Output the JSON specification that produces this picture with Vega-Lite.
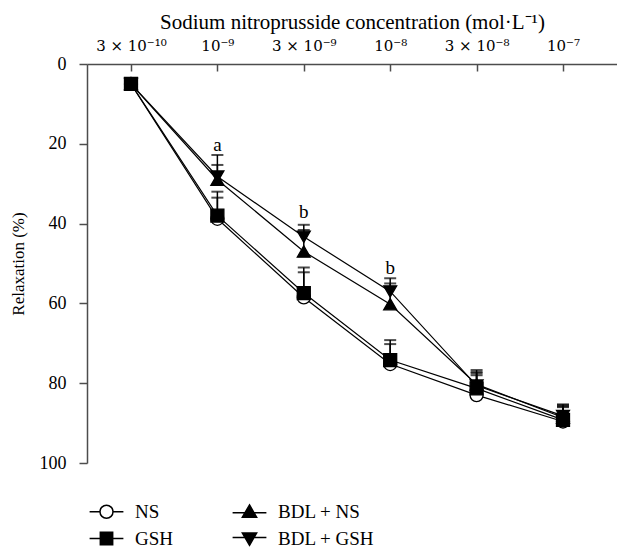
{
  "$schema": "https://vega.github.io/schema/vega-lite/v6.json",
  "width": 530,
  "height": 399,
  "autosize": "none",
  "padding": {"left": 87, "top": 64, "right": 0, "bottom": 85},
  "config": {
    "font": "Liberation Serif",
    "view": {"stroke": null},
    "axis": {
      "labelFont": "Liberation Serif",
      "titleFont": "Liberation Serif",
      "labelColor": "black",
      "titleColor": "black",
      "domainColor": "#4d4d4d",
      "tickColor": "#4d4d4d",
      "domainWidth": 1.5,
      "tickWidth": 1.5,
      "grid": false,
      "labelFontSize": 18,
      "titleFontSize": 21,
      "titleFontWeight": "normal"
    }
  },
  "datasets": {
    "relaxation": [
      {"series": "NS", "step": 0, "relax": 5, "err_top": null},
      {"series": "NS", "step": 1, "relax": 38.8, "err_top": 33.5},
      {"series": "NS", "step": 2, "relax": 58.5, "err_top": 52.2},
      {"series": "NS", "step": 3, "relax": 75.2, "err_top": 70.2},
      {"series": "NS", "step": 4, "relax": 83, "err_top": 78},
      {"series": "NS", "step": 5, "relax": 89.6, "err_top": 86},
      {"series": "BDL + NS", "step": 0, "relax": 5, "err_top": null},
      {"series": "BDL + NS", "step": 1, "relax": 29, "err_top": 25.3},
      {"series": "BDL + NS", "step": 2, "relax": 47, "err_top": 41.6},
      {"series": "BDL + NS", "step": 3, "relax": 60.2, "err_top": 55},
      {"series": "BDL + NS", "step": 4, "relax": 80.3, "err_top": 76.7},
      {"series": "BDL + NS", "step": 5, "relax": 88.6, "err_top": 85.5},
      {"series": "BDL + GSH", "step": 0, "relax": 5, "err_top": null},
      {"series": "BDL + GSH", "step": 1, "relax": 28.2, "err_top": 22.8},
      {"series": "BDL + GSH", "step": 2, "relax": 43.3, "err_top": 40.3},
      {"series": "BDL + GSH", "step": 3, "relax": 57, "err_top": 53.7},
      {"series": "BDL + GSH", "step": 4, "relax": 80.6, "err_top": 77.2},
      {"series": "BDL + GSH", "step": 5, "relax": 88.2, "err_top": 85.8},
      {"series": "GSH", "step": 0, "relax": 5, "err_top": null},
      {"series": "GSH", "step": 1, "relax": 38, "err_top": 32},
      {"series": "GSH", "step": 2, "relax": 57.4, "err_top": 51},
      {"series": "GSH", "step": 3, "relax": 74.2, "err_top": 69.2},
      {"series": "GSH", "step": 4, "relax": 81.3, "err_top": 77.5},
      {"series": "GSH", "step": 5, "relax": 89.2, "err_top": 85.3}
    ],
    "significance": [
      {"step": 1, "relax": 21.7, "label": "a"},
      {"step": 2, "relax": 38.6, "label": "b"},
      {"step": 3, "relax": 52.6, "label": "b"}
    ]
  },
  "encoding": {
    "x": {
      "field": "step",
      "type": "quantitative",
      "scale": {"domain": [-0.509, 5.625], "nice": false, "zero": false},
      "axis": {
        "orient": "top",
        "values": [0, 1, 2, 3, 4, 5],
        "labelExpr": "['3 × 10⁻¹⁰', '10⁻⁹', '3 × 10⁻⁹', '10⁻⁸', '3 × 10⁻⁸', '10⁻⁷'][datum.value]",
        "labelFont": "DejaVu Serif",
        "labelFontSize": 15,
        "tickSize": -7,
        "labelPadding": 18,
        "labelFlush": false,
        "labelOverlap": false,
        "title": "Sodium nitroprusside concentration (mol·L⁻¹)",
        "titlePadding": 6
      }
    },
    "y": {
      "field": "relax",
      "type": "quantitative",
      "scale": {"domain": [0, 100], "reverse": true, "nice": false},
      "axis": {
        "values": [0, 20, 40, 60, 80, 100],
        "tickSize": 8,
        "labelPadding": 13,
        "title": "Relaxation (%)",
        "titleFontSize": 17,
        "titlePadding": 12
      }
    }
  },
  "resolve": {"scale": {"shape": "independent"}, "legend": {"shape": "independent"}},
  "layer": [
    {
      "data": {"name": "relaxation"},
      "mark": {"type": "line", "color": "black", "strokeWidth": 1.2},
      "encoding": {"detail": {"field": "series", "type": "nominal"}}
    },
    {
      "data": {"name": "relaxation"},
      "transform": [{"filter": "isValid(datum.err_top)"}],
      "mark": {"type": "rule", "color": "black", "strokeWidth": 1.5},
      "encoding": {"y2": {"field": "err_top"}}
    },
    {
      "data": {"name": "relaxation"},
      "transform": [{"filter": "isValid(datum.err_top)"}],
      "mark": {"type": "tick", "orient": "horizontal", "color": "black", "size": 12, "thickness": 2},
      "encoding": {"y": {"field": "err_top", "type": "quantitative"}}
    },
    {
      "data": {"name": "relaxation"},
      "mark": {"type": "point", "filled": true, "stroke": "black", "strokeWidth": 1.3, "opacity": 1, "size": 169},
      "encoding": {
        "shape": {
          "field": "series",
          "type": "nominal",
          "scale": {
            "domain": ["NS", "GSH", "BDL + NS", "BDL + GSH"],
            "range": ["circle", "square", "triangle-up", "triangle-down"]
          },
          "legend": null
        },
        "fill": {
          "condition": {"test": "datum.series === 'NS'", "value": "white"},
          "value": "black"
        }
      }
    },
    {
      "data": {"name": "relaxation"},
      "mark": {"type": "point", "filled": true, "opacity": 0, "size": 169},
      "encoding": {
        "shape": {
          "field": "series",
          "type": "nominal",
          "scale": {
            "domain": ["NS", "GSH", "BDL + NS", "BDL + GSH"],
            "range": [
              "M-2.6,0H-1M1,0H2.6M1,0A1,1,0,1,1,-1,0A1,1,0,1,1,1,0Z",
              "M-2.6,0H2.6M-0.95,-0.95H0.95V0.95H-0.95Z",
              "M-2.6,0.15H2.6M0,-1.05L1.1,0.85H-1.1Z",
              "M-2.6,-0.15H2.6M0,1.05L1.1,-0.85H-1.1Z"
            ]
          },
          "legend": {
            "title": null,
            "orient": "none",
            "direction": "vertical",
            "legendX": 10,
            "legendY": 438,
            "columns": 2,
            "columnPadding": 55,
            "rowPadding": 7,
            "padding": 0,
            "symbolSize": 169,
            "labelOffset": 19,
            "labelFontSize": 19,
            "labelFont": "Liberation Serif",
            "labelColor": "black",
            "encoding": {
              "symbols": {
                "fill": {"value": {"expr": "datum.value === 'NS' ? 'white' : 'black'"}},
                "stroke": {"value": "black"},
                "strokeWidth": {"value": 1.5},
                "size": {"value": 169},
                "opacity": {"value": 1}
              }
            }
          }
        }
      }
    },
    {
      "data": {"name": "significance"},
      "mark": {"type": "text", "baseline": "alphabetic", "fontSize": 19, "color": "black", "font": "Liberation Serif"},
      "encoding": {"text": {"field": "label"}}
    }
  ]
}
